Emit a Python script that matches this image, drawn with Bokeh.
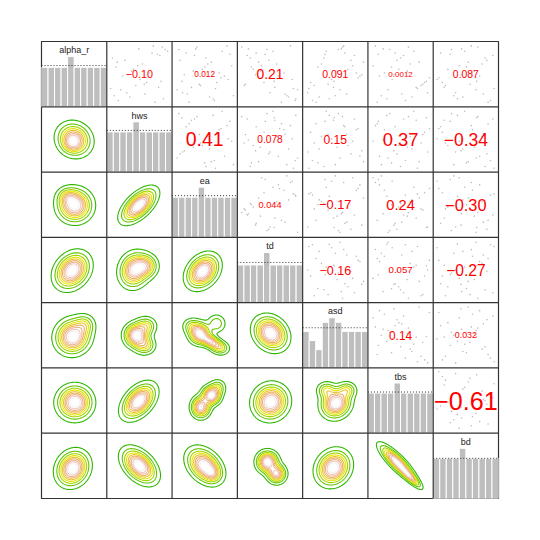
import numpy as np
from bokeh.plotting import figure
from bokeh.models import Range1d, ColumnDataSource
from bokeh.core.properties import value, field
from bokeh.embed import file_html
from bokeh.resources import INLINE

# ---------------- data ----------------
var_names = ["alpha_r", "hws", "ea", "td", "asd", "tbs", "bd"]

# histogram bin counts (10 bins) for each variable
hist_alpha_r = [11, 11, 11, 11, 14, 11, 11, 11, 11, 11]
hist_hws = [8, 8, 8, 8, 10, 8, 8, 8, 8, 8]
hist_ea = [8, 8, 8, 8, 10, 8, 8, 8, 8, 8]
hist_td = [3, 3, 3, 3, 4, 3, 3, 3, 3, 3]
hist_asd = [8, 6, 4, 10, 11, 10, 8, 8, 8, 8]
hist_tbs = [8, 8, 8, 8, 10, 8, 8, 8, 8, 8]
hist_bd = [8, 8, 8, 8, 10, 8, 8, 8, 8, 8]
hist_ref = [11.5, 8.3, 8.3, 3.2, 8.8, 8.2, 8.0]   # dotted reference line

# correlations of each variable with the variables that follow it
cor_alpha_r = [-0.10, 0.012, 0.21, 0.091, 0.0012, 0.087]
cor_hws = [0.41, 0.078, 0.15, 0.37, -0.34]
cor_ea = [0.044, -0.17, 0.24, -0.30]
cor_td = [-0.16, 0.057, -0.27]
cor_asd = [0.14, 0.032]
cor_tbs = [-0.61]

# rescaled (0-1) sample of observations shown as faint points
obs_alpha_r = [0.12, 0.85, 0.47, 0.33, 0.91, 0.06, 0.64, 0.28, 0.77, 0.52, 0.19, 0.95, 0.41, 0.70, 0.03, 0.58, 0.88, 0.24,
               0.36, 0.81, 0.14, 0.67, 0.49, 0.97, 0.31, 0.73, 0.09, 0.55, 0.44, 0.62, 0.17, 0.83, 0.26, 0.92, 0.38]
obs_hws = [0.34, 0.71, 0.22, 0.58, 0.93, 0.15, 0.47, 0.82, 0.05, 0.66, 0.29, 0.88, 0.51, 0.13, 0.76, 0.40, 0.97, 0.19,
           0.62, 0.84, 0.08, 0.55, 0.31, 0.73, 0.44, 0.26, 0.90, 0.37, 0.68, 0.11, 0.59, 0.80, 0.02, 0.49, 0.86]
obs_ea = [0.58, 0.19, 0.83, 0.41, 0.07, 0.66, 0.95, 0.28, 0.52, 0.74, 0.13, 0.37, 0.89, 0.61, 0.24, 0.46, 0.79, 0.04,
          0.70, 0.33, 0.98, 0.55, 0.16, 0.87, 0.43, 0.09, 0.64, 0.31, 0.77, 0.50, 0.21, 0.92, 0.68, 0.35, 0.12]
obs_td = [0.81, 0.27, 0.64, 0.09, 0.45, 0.92, 0.36, 0.58, 0.17, 0.73, 0.50, 0.03, 0.87, 0.31, 0.69, 0.22, 0.55, 0.96,
          0.40, 0.12, 0.78, 0.61, 0.26, 0.84, 0.07, 0.48, 0.93, 0.34, 0.66, 0.19, 0.75, 0.42, 0.89, 0.14, 0.57]
obs_asd = [0.23, 0.66, 0.91, 0.38, 0.55, 0.12, 0.79, 0.47, 0.31, 0.85, 0.04, 0.62, 0.44, 0.97, 0.18, 0.71, 0.35, 0.58,
           0.09, 0.82, 0.50, 0.27, 0.94, 0.64, 0.15, 0.76, 0.40, 0.53, 0.88, 0.21, 0.69, 0.33, 0.06, 0.60, 0.48]
obs_tbs = [0.69, 0.41, 0.15, 0.87, 0.32, 0.58, 0.04, 0.76, 0.50, 0.23, 0.95, 0.63, 0.36, 0.81, 0.11, 0.47, 0.72, 0.29,
           0.90, 0.55, 0.18, 0.66, 0.39, 0.08, 0.84, 0.44, 0.27, 0.61, 0.98, 0.35, 0.52, 0.13, 0.78, 0.21, 0.93]
obs_bd = [0.45, 0.08, 0.73, 0.57, 0.26, 0.91, 0.39, 0.14, 0.82, 0.61, 0.33, 0.70, 0.02, 0.54, 0.87, 0.20, 0.48, 0.67,
          0.11, 0.95, 0.30, 0.77, 0.42, 0.59, 0.16, 0.85, 0.36, 0.64, 0.05, 0.51, 0.79, 0.24, 0.97, 0.43, 0.68]

# estimated density components for each lower panel (row, col):
# (centre x, centre y, sd x, sd y, correlation, relative peak) in rescaled units
density_parts = {
    (1, 0): [(0.50, 0.50, 0.14, 0.135, -0.10, 1.0), (0.47, 0.44, 0.08, 0.08, 0.0, 0.35)],
    (2, 0): [(0.51, 0.49, 0.14, 0.135, 0.0, 1.0), (0.40, 0.62, 0.09, 0.08, 0.0, 0.3)],
    (2, 1): [(0.49, 0.49, 0.14, 0.135, 0.60, 1.0)],
    (3, 0): [(0.47, 0.49, 0.14, 0.145, 0.25, 1.0)],
    (3, 1): [(0.42, 0.50, 0.12, 0.14, 0.10, 1.0), (0.60, 0.56, 0.10, 0.10, 0.0, 0.6)],
    (3, 2): [(0.47, 0.48, 0.13, 0.135, 0.30, 1.0)],
    (4, 0): [(0.48, 0.48, 0.14, 0.14, 0.05, 1.0), (0.66, 0.66, 0.09, 0.09, 0.0, 0.3)],
    (4, 1): [(0.45, 0.50, 0.10, 0.10, 0.0, 1.0), (0.60, 0.64, 0.09, 0.08, 0.0, 0.4), (0.58, 0.35, 0.09, 0.08, 0.0, 0.45)],
    (4, 2): [(0.42, 0.53, 0.09, 0.09, 0.0, 1.0), (0.60, 0.40, 0.10, 0.07, -0.5, 0.85), (0.68, 0.68, 0.08, 0.08, 0.0, 0.3),
             (0.30, 0.64, 0.08, 0.07, 0.0, 0.3), (0.74, 0.30, 0.08, 0.06, 0.0, 0.3)],
    (4, 3): [(0.51, 0.53, 0.135, 0.135, -0.20, 1.0)],
    (5, 0): [(0.51, 0.47, 0.14, 0.135, 0.0, 1.0)],
    (5, 1): [(0.49, 0.49, 0.135, 0.14, 0.45, 1.0)],
    (5, 2): [(0.60, 0.58, 0.08, 0.08, 0.0, 1.0), (0.44, 0.40, 0.08, 0.09, 0.0, 0.9), (0.70, 0.70, 0.07, 0.07, 0.0, 0.3)],
    (5, 3): [(0.51, 0.48, 0.14, 0.14, 0.05, 1.0)],
    (5, 4): [(0.51, 0.46, 0.12, 0.12, 0.10, 1.0), (0.36, 0.66, 0.08, 0.07, 0.0, 0.35), (0.68, 0.66, 0.08, 0.07, 0.0, 0.35)],
    (6, 0): [(0.48, 0.46, 0.13, 0.14, 0.15, 1.0)],
    (6, 1): [(0.50, 0.50, 0.14, 0.14, -0.45, 1.0)],
    (6, 2): [(0.50, 0.50, 0.14, 0.14, -0.35, 1.0), (0.62, 0.38, 0.07, 0.07, 0.0, 0.3)],
    (6, 3): [(0.46, 0.56, 0.09, 0.09, 0.0, 1.0), (0.60, 0.38, 0.08, 0.08, 0.0, 0.8)],
    (6, 4): [(0.47, 0.47, 0.135, 0.14, 0.15, 1.0)],
    (6, 5): [(0.45, 0.55, 0.14, 0.14, -0.85, 1.0), (0.65, 0.33, 0.09, 0.09, -0.85, 0.6)],
}

hist_counts = [hist_alpha_r, hist_hws, hist_ea, hist_td, hist_asd, hist_tbs, hist_bd]
cors = [cor_alpha_r, cor_hws, cor_ea, cor_td, cor_asd, cor_tbs]
obs = [obs_alpha_r, obs_hws, obs_ea, obs_td, obs_asd, obs_tbs, obs_bd]

# ---------------- styles ----------------
N = len(var_names)
FONT = "Liberation Sans"
terrain = ["#2DB600", "#63C600", "#A0D600", "#E6E600", "#E8C32E", "#EBB25E", "#EDB48E", "#F0C9C0", "#F2F2F2"]
level_fracs = np.array([0.07, 0.17, 0.27, 0.37, 0.47, 0.57, 0.67, 0.77, 0.87])

p = figure(width=508, height=508, frame_width=457, frame_height=457,
           min_border_left=41, min_border_top=41, min_border_right=10, min_border_bottom=10,
           x_range=Range1d(0, N), y_range=Range1d(0, N),
           x_axis_type=None, y_axis_type=None,
           output_backend="svg", toolbar_location=None)
p.outline_line_color = "#333333"
p.outline_line_width = 1.2
p.background_fill_color = "white"
p.border_fill_color = "white"


def px0(j):
    return j


def py0(i):
    return N - 1 - i


def fmt2(r):
    d = max(2 - int(np.floor(np.log10(abs(r)))) - 1, 0)
    return ("%.*f" % (d, r)).replace("-", "\u2212")


# ---- diagonal histograms ----
for k in range(N):
    counts = np.array(hist_counts[k], dtype=float)
    scale = counts.max() * 1.3
    nb = len(counts)
    edges = np.linspace(0, 1, nb + 1)
    p.quad(left=px0(k) + edges[:-1], right=px0(k) + edges[1:],
           bottom=py0(k), top=py0(k) + counts / scale,
           fill_color="#BEBEBE", line_color="white", line_width=1)
    yref = py0(k) + hist_ref[k] / scale
    p.segment(x0=[px0(k)], y0=[yref], x1=[px0(k) + 1], y1=[yref],
              line_color="#333333", line_width=1, line_dash="1 2")
    p.text(x=[px0(k) + 0.5], y=[py0(k) + 1 - 0.135], text=[var_names[k]],
           text_align="center", text_baseline="middle",
           text_font=value(FONT), text_font_size="9px", text_color="#222222")

# ---- upper panels: faint points + correlation ----
cx, cy, ctext, csize = [], [], [], []
ptx, pty = [], []
for i in range(N):
    for j in range(i + 1, N):
        r = cors[i][j - i - 1]
        cx.append(px0(j) + 0.5)
        cy.append(py0(i) + 0.5)
        ctext.append(fmt2(r))
        csize.append("%.1fpx" % (8 + 28 * abs(r)))
        ptx.extend(list(px0(j) + 0.04 + 0.92 * np.array(obs[j])))
        pty.extend(list(py0(i) + 0.04 + 0.92 * np.array(obs[i])))

p.scatter(x=ptx, y=pty, size=1.6, fill_color="#BDBDBD", line_color=None)
src = ColumnDataSource(dict(x=cx, y=cy, text=ctext, fs=csize))
p.text(x="x", y="y", text="text", source=src, text_align="center", text_baseline="middle",
       text_font=value(FONT), text_font_size=field("fs"), text_color="#FF0000")

# ---- lower panels: density contours ----
u = np.linspace(0.0, 1.0, 101)
U, V = np.meshgrid(u, u)
for (i, j), parts in density_parts.items():
    Z = np.zeros_like(U)
    for (mx, my, sx, sy, rho, w) in parts:
        dx = (U - mx) / sx
        dy = (V - my) / sy
        q = (dx * dx - 2 * rho * dx * dy + dy * dy) / (1 - rho * rho)
        Z += w * np.exp(-q / 2)
    levels = list(level_fracs * Z.max())
    p.contour(x=px0(j) + u, y=py0(i) + u, z=Z, levels=levels,
              line_color=terrain, line_width=1.1)

# ---- panel borders ----
b = list(range(1, N))
p.segment(x0=b, y0=[0] * len(b), x1=b, y1=[N] * len(b), line_color="#333333", line_width=1.2)
p.segment(x0=[0] * len(b), y0=b, x1=[N] * len(b), y1=b, line_color="#333333", line_width=1.2)

open("out.html", "w").write(file_html(p, INLINE))
